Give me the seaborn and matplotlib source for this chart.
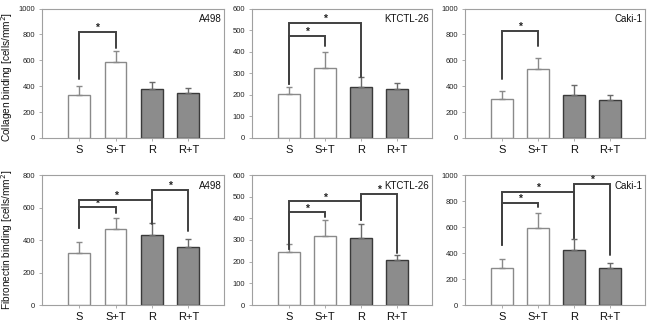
import matplotlib
matplotlib.use("Agg")
import matplotlib.pyplot as plt
import seaborn as sns
import pandas as pd
import numpy as np

sns.set_style("white")
plt.rcParams['font.family'] = ['Liberation Sans', 'DejaVu Sans']

groups = ["S", "S+T", "R", "R+T"]

# Collagen binding (top row)
col_a498 = [335, 585, 380, 345]
col_a498_err = [400, 668, 430, 388]
col_ktctl = [202, 323, 235, 227]
col_ktctl_err = [238, 397, 281, 253]
col_caki = [305, 530, 335, 295]
col_caki_err = [365, 615, 408, 330]

# Fibronectin binding (bottom row)
fib_a498 = [318, 466, 428, 357]
fib_a498_err = [386, 537, 505, 404]
fib_ktctl = [245, 318, 310, 208]
fib_ktctl_err = [281, 393, 372, 232]
fib_caki = [283, 590, 423, 288]
fib_caki_err = [351, 705, 508, 323]

cell_lines = ["A498", "KTCTL-26", "Caki-1"]
ymax = [[1000, 600, 1000], [800, 600, 1000]]
ystep = [[200, 100, 200], [200, 100, 200]]

# significance brackets: (group_i, group_j, bracket height, leg_i bottom, leg_j bottom)
sig_col = [
    [(0, 1, 818, 455, 695)],
    [(0, 1, 472, 250, 425), (0, 2, 534, 250, 281)],
    [(0, 1, 825, 455, 708)],
]
sig_fib = [
    [(0, 1, 601, 472, 568), (0, 2, 646, 472, 600), (2, 3, 708, 500, 455)],
    [(0, 1, 428, 260, 408), (0, 2, 478, 260, 392), (2, 3, 512, 392, 240)],
    [(0, 1, 787, 462, 756), (0, 2, 872, 462, 518), (2, 3, 931, 518, 385)],
]

rows = [
    ([col_a498, col_ktctl, col_caki], [col_a498_err, col_ktctl_err, col_caki_err], sig_col,
     "Collagen binding [cells/mm$^2$]"),
    ([fib_a498, fib_ktctl, fib_caki], [fib_a498_err, fib_ktctl_err, fib_caki_err], sig_fib,
     "Fibronectin binding [cells/mm$^2$]"),
]

W, H = 650, 327
fig = plt.figure(figsize=(6.5, 3.27), dpi=100)

col_px = [(42, 224), (252, 432), (465, 645)]
row_px = [(8.5, 138), (175, 305)]
ylab_y = [0.47, 0.5]

fills = ["#ffffff", "#ffffff", "#8c8c8c", "#8c8c8c"]
edges = ["#8a8a8a", "#8a8a8a", "#3a3a3a", "#3a3a3a"]
errc = ["#8a8a8a", "#8a8a8a", "#6a6a6a", "#6a6a6a"]
spine_c = "#a0a0a0"
brk_c = "#404040"

for r, (vals_list, err_list, sig_list, ylab) in enumerate(rows):
    for c in range(3):
        x0, x1 = col_px[c]
        yt, yb = row_px[r]
        ax = fig.add_axes([x0 / W, 1 - yb / H, (x1 - x0) / W, (yb - yt) / H])
        df = pd.DataFrame({"group": groups, "value": vals_list[c]})
        sns.barplot(data=df, x="group", y="value", hue="group", palette=fills,
                    width=0.6, legend=False, ax=ax, errorbar=None, linewidth=1.0)
        for p, ec in zip(ax.patches, edges):
            p.set_edgecolor(ec)
        xs = np.arange(len(groups))
        means = np.array(vals_list[c])
        ups = np.array(err_list[c]) - means
        for i in range(len(groups)):
            ax.errorbar(xs[i], means[i], yerr=[[0], [ups[i]]], fmt='none',
                        ecolor=errc[i], elinewidth=1.0, capsize=2.2, capthick=1.0, zorder=3)
        for (i, j, h, bi, bj) in sig_list[c]:
            ax.plot([xs[i], xs[i], xs[j], xs[j]], [bi, h, h, bj], color=brk_c, lw=1.4,
                    solid_joinstyle='miter', zorder=4)
            ax.text((xs[i] + xs[j]) / 2, h + ymax[r][c] * 0.03, "*", ha="center", va="center",
                    fontsize=7.5, fontweight="bold", color="#222222")
        ax.set_xlim(-1.02, 3.98)
        ax.set_ylim(0, ymax[r][c])
        ax.set_yticks(np.arange(0, ymax[r][c] + 1, ystep[r][c]))
        ax.tick_params(axis='y', labelsize=5.5, length=2, width=0.6, color=spine_c, pad=3,
                       labelcolor="#222222", left=True)
        ax.tick_params(axis='x', labelsize=8, length=2, width=0.6, color=spine_c, pad=3,
                       labelcolor="#111111", bottom=True)
        ax.set_xlabel("")
        if c == 0:
            ax.set_ylabel(ylab, fontsize=7.3, color="#111111")
            ax.yaxis.set_label_coords(-0.15, ylab_y[r])
        else:
            ax.set_ylabel("")
        for s in ax.spines.values():
            s.set_color(spine_c)
            s.set_linewidth(0.8)
        ax.text(0.985, 0.955, cell_lines[c], transform=ax.transAxes, ha="right", va="top",
                fontsize=7, color="#111111")

fig.savefig("out.png", dpi=100)
